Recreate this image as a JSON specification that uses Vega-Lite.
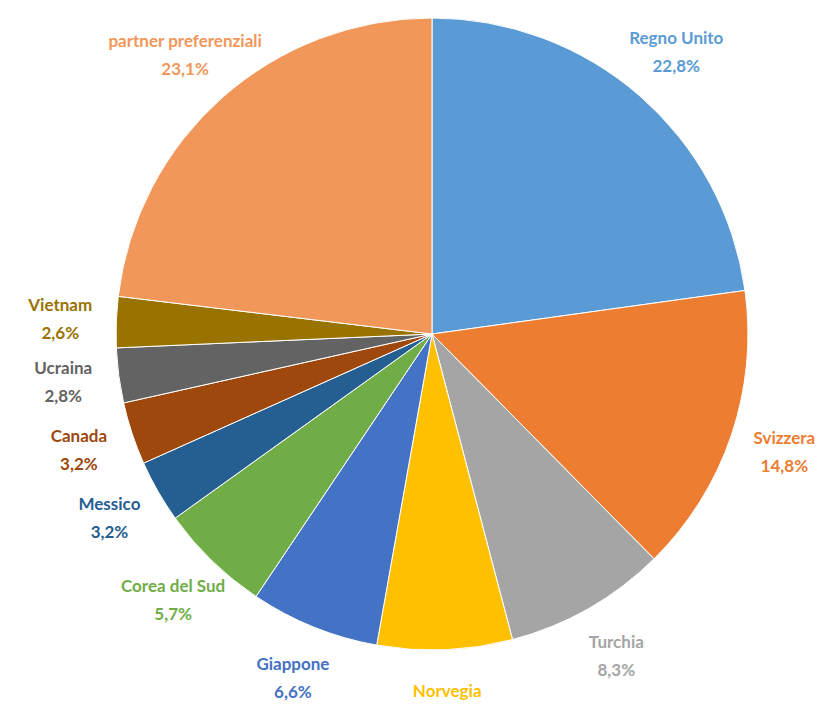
{
  "$schema": "https://vega.github.io/schema/vega-lite/v6.json",
  "width": 792,
  "height": 668,
  "autosize": {"type": "none"},
  "padding": {"left": 36, "top": 0, "right": 0, "bottom": 38},
  "background": "white",
  "config": {"view": {"stroke": null}},
  "data": {
    "values": [
      {"i": 1, "name": "Regno Unito", "value": 22.8, "pct": "22,8%"},
      {"i": 2, "name": "Svizzera", "value": 14.8, "pct": "14,8%"},
      {"i": 3, "name": "Turchia", "value": 8.3, "pct": "8,3%"},
      {"i": 4, "name": "Norvegia", "value": 6.9, "pct": "6,9%"},
      {"i": 5, "name": "Giappone", "value": 6.6, "pct": "6,6%"},
      {"i": 6, "name": "Corea del Sud", "value": 5.7, "pct": "5,7%"},
      {"i": 7, "name": "Messico", "value": 3.2, "pct": "3,2%"},
      {"i": 8, "name": "Canada", "value": 3.2, "pct": "3,2%"},
      {"i": 9, "name": "Ucraina", "value": 2.8, "pct": "2,8%"},
      {"i": 10, "name": "Vietnam", "value": 2.6, "pct": "2,6%"},
      {"i": 11, "name": "partner preferenziali", "value": 23.1, "pct": "23,1%"}
    ]
  },
  "encoding": {
    "theta": {"field": "value", "type": "quantitative", "stack": true},
    "order": {"field": "i", "type": "quantitative"},
    "color": {
      "field": "name",
      "type": "nominal",
      "legend": null,
      "scale": {
        "domain": ["Regno Unito", "Svizzera", "Turchia", "Norvegia", "Giappone", "Corea del Sud", "Messico", "Canada", "Ucraina", "Vietnam", "partner preferenziali"],
        "range": ["#5B9BD5", "#ED7D31", "#A5A5A5", "#FFC000", "#4472C4", "#70AD47", "#255E91", "#9E480E", "#636363", "#997300", "#F1975A"]
      }
    }
  },
  "layer": [
    {"mark": {"type": "arc", "outerRadius": 316, "stroke": "white", "strokeWidth": 1}},
    {
      "mark": {"type": "text", "radius": 372, "dy": -14, "font": "Lato", "fontWeight": "bold", "fontSize": 17},
      "encoding": {"text": {"field": "name"}}
    },
    {
      "mark": {"type": "text", "radius": 372, "dy": 14, "font": "Lato", "fontWeight": "bold", "fontSize": 17},
      "encoding": {"text": {"field": "pct"}}
    }
  ]
}
